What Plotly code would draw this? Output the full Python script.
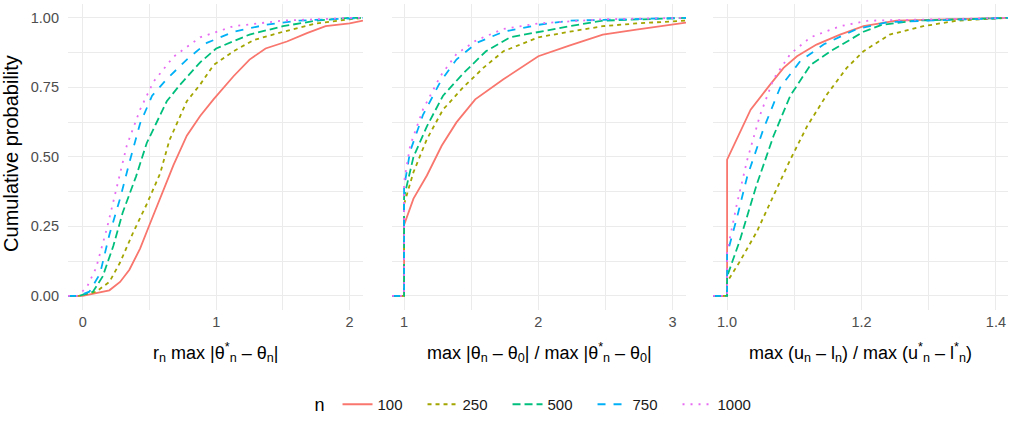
import plotly.graph_objects as go

W, H = 1018, 422

series_n = ["100", "250", "500", "750", "1000"]
colors = ["#F8766D", "#A3A500", "#00BF7D", "#00B0F6", "#E76BF3"]
dashes = ["solid", "4px,4px", "8px,4px", "8px,8px", "2px,6px"]

# Panel 1: r_n max|theta*_n - theta_n|
p1_x100 = [-0.11, 0.0, 0.2, 0.28, 0.35, 0.43, 0.5, 0.58, 0.68, 0.78, 0.88, 0.98, 1.13, 1.25, 1.37, 1.53, 1.68, 1.82, 2.0, 2.1]
p1_y100 = [0.0, 0.0, 0.02, 0.05, 0.094, 0.17, 0.255, 0.35, 0.47, 0.576, 0.647, 0.707, 0.79, 0.85, 0.89, 0.915, 0.945, 0.97, 0.98, 0.99]
p1_x250 = [-0.11, -0.03, 0.10, 0.2, 0.28, 0.38, 0.48, 0.58, 0.65, 0.73, 0.78, 0.88, 0.98, 1.13, 1.28, 1.5, 1.75, 2.0, 2.1]
p1_y250 = [0.0, 0.0, 0.015, 0.05, 0.12, 0.23, 0.33, 0.44, 0.56, 0.65, 0.70, 0.76, 0.83, 0.88, 0.92, 0.95, 0.98, 0.995, 1.0]
p1_x500 = [-0.11, -0.03, 0.077, 0.15, 0.23, 0.30, 0.40, 0.48, 0.55, 0.63, 0.73, 0.88, 1.0, 1.25, 1.5, 1.75, 2.0, 2.1]
p1_y500 = [0.0, 0.0, 0.015, 0.07, 0.18, 0.30, 0.43, 0.55, 0.62, 0.70, 0.76, 0.84, 0.89, 0.94, 0.97, 0.99, 1.0, 1.0]
p1_x750 = [-0.11, -0.03, 0.05, 0.13, 0.2, 0.28, 0.35, 0.43, 0.52, 0.63, 0.78, 0.93, 1.13, 1.37, 1.62, 2.0, 2.1]
p1_y750 = [0.0, 0.0, 0.015, 0.08, 0.22, 0.35, 0.48, 0.62, 0.72, 0.78, 0.85, 0.91, 0.95, 0.975, 0.99, 1.0, 1.0]
p1_x1000 = [-0.11, -0.04, 0.03, 0.10, 0.18, 0.25, 0.33, 0.43, 0.53, 0.68, 0.88, 1.13, 1.5, 2.0, 2.1]
p1_y1000 = [0.0, 0.0, 0.03, 0.10, 0.24, 0.38, 0.54, 0.67, 0.77, 0.86, 0.93, 0.97, 0.99, 1.0, 1.0]

# Panel 2: max|theta_n - theta_0| / max|theta*_n - theta_0|
p2_x100 = [0.91, 1.0, 1.0, 1.07, 1.17, 1.28, 1.39, 1.53, 1.74, 2.0, 2.23, 2.48, 2.73, 3.1]
p2_y100 = [0.0, 0.0, 0.255, 0.35, 0.433, 0.54, 0.624, 0.707, 0.779, 0.862, 0.90, 0.94, 0.958, 0.983]
p2_x250 = [0.91, 1.0, 1.0, 1.07, 1.17, 1.29, 1.44, 1.59, 1.74, 2.0, 2.23, 2.48, 2.73, 3.1]
p2_y250 = [0.0, 0.0, 0.33, 0.445, 0.564, 0.67, 0.75, 0.82, 0.88, 0.93, 0.95, 0.97, 0.98, 0.99]
p2_x500 = [0.91, 1.0, 1.0, 1.07, 1.17, 1.29, 1.44, 1.61, 1.79, 2.0, 2.23, 2.48, 3.1]
p2_y500 = [0.0, 0.0, 0.355, 0.50, 0.61, 0.72, 0.80, 0.88, 0.93, 0.95, 0.97, 0.99, 1.0]
p2_x750 = [0.91, 1.0, 1.0, 1.045, 1.14, 1.27, 1.39, 1.54, 1.74, 2.0, 2.23, 3.1]
p2_y750 = [0.0, 0.0, 0.39, 0.52, 0.65, 0.77, 0.85, 0.91, 0.95, 0.975, 0.99, 1.0]
p2_x1000 = [0.91, 1.0, 1.0, 1.045, 1.14, 1.27, 1.39, 1.54, 1.74, 2.0, 2.48, 3.1]
p2_y1000 = [0.0, 0.0, 0.41, 0.54, 0.67, 0.79, 0.87, 0.92, 0.96, 0.98, 0.995, 1.0]

# Panel 3: max(u_n - l_n) / max(u*_n - l*_n)
p3_x100 = [0.979, 1.0, 1.0, 1.0145, 1.035, 1.064, 1.084, 1.104, 1.133, 1.168, 1.203, 1.252, 1.418]
p3_y100 = [0.0, 0.0, 0.49, 0.564, 0.67, 0.76, 0.82, 0.862, 0.904, 0.94, 0.97, 0.99, 1.0]
p3_x250 = [0.979, 1.0, 1.0, 1.019, 1.044, 1.069, 1.094, 1.119, 1.149, 1.178, 1.203, 1.242, 1.292, 1.342, 1.418]
p3_y250 = [0.0, 0.0, 0.05, 0.124, 0.23, 0.36, 0.49, 0.61, 0.726, 0.82, 0.88, 0.94, 0.97, 0.99, 1.0]
p3_x500 = [0.979, 1.0, 1.0, 1.019, 1.044, 1.069, 1.094, 1.124, 1.154, 1.203, 1.23, 1.28, 1.418]
p3_y500 = [0.0, 0.0, 0.07, 0.20, 0.40, 0.575, 0.72, 0.83, 0.88, 0.95, 0.975, 0.99, 1.0]
p3_x750 = [0.979, 1.0, 1.0, 1.0145, 1.03, 1.054, 1.079, 1.109, 1.144, 1.193, 1.24, 1.418]
p3_y750 = [0.0, 0.0, 0.15, 0.28, 0.43, 0.60, 0.75, 0.845, 0.905, 0.96, 0.985, 1.0]
p3_x1000 = [0.979, 1.0, 1.0, 1.0145, 1.03, 1.049, 1.069, 1.094, 1.124, 1.168, 1.21, 1.418]
p3_y1000 = [0.0, 0.0, 0.16, 0.33, 0.49, 0.65, 0.78, 0.87, 0.93, 0.97, 0.99, 1.0]

panels = [
    ([p1_x100, p1_x250, p1_x500, p1_x750, p1_x1000], [p1_y100, p1_y250, p1_y500, p1_y750, p1_y1000]),
    ([p2_x100, p2_x250, p2_x500, p2_x750, p2_x1000], [p2_y100, p2_y250, p2_y500, p2_y750, p2_y1000]),
    ([p3_x100, p3_x250, p3_x500, p3_x750, p3_x1000], [p3_y100, p3_y250, p3_y500, p3_y750, p3_y1000]),
]

x_ranges = [[-0.11, 2.1], [0.91, 3.1], [0.979, 1.418]]
x_ticks = [[0, 1, 2], [1, 2, 3], [1.0, 1.2, 1.4]]
x_ticktext = [["0", "1", "2"], ["1", "2", "3"], ["1.0", "1.2", "1.4"]]
x_minor = [0.5, 0.5, 0.1]
x_titles = [
    "r<sub>n</sub> max |θ<sup>*</sup><sub>n</sub> – θ<sub>n</sub>|",
    "max |θ<sub>n</sub> – θ<sub>0</sub>| / max |θ<sup>*</sup><sub>n</sub> – θ<sub>0</sub>|",
    "max (u<sub>n</sub> – l<sub>n</sub>) / max (u<sup>*</sup><sub>n</sub> – l<sup>*</sup><sub>n</sub>)",
]
y_ticks = [0, 0.25, 0.5, 0.75, 1.0]
y_ticktext = ["0.00", "0.25", "0.50", "0.75", "1.00"]

panel_px = [(68, 363), (392, 686), (713, 1008)]
y_dom = [(H - 312) / H, (H - 4) / H]

FONT = "Liberation Sans, Arial, sans-serif"
GRID = "#EBEBEB"
TICK_SIZE = 14.5
TITLE_SIZE = 18

fig = go.Figure()
for p, (xs, ys) in enumerate(panels):
    xa = "x" if p == 0 else f"x{p+1}"
    ya = "y" if p == 0 else f"y{p+1}"
    for i in range(5):
        fig.add_trace(go.Scatter(
            x=xs[i], y=ys[i], mode="lines", xaxis=xa, yaxis=ya,
            name=series_n[i], legendgroup=series_n[i], showlegend=(p == 0),
            line=dict(color=colors[i], width=1.8, dash=dashes[i]),
        ))

layout = dict(
    width=W, height=H, margin=dict(l=0, r=0, t=0, b=0),
    paper_bgcolor="white", plot_bgcolor="white",
    font=dict(family=FONT, size=TICK_SIZE, color="#4D4D4D"),
    showlegend=True,
    legend=dict(
        orientation="h", x=0.5285, xanchor="center", y=0.033, yanchor="middle",
        title=dict(text="n ", font=dict(size=TITLE_SIZE, color="black"), side="left"),
        font=dict(size=15, color="#1a1a1a"),
        itemwidth=30, tracegroupgap=0, entrywidth=40, entrywidthmode="pixels",
    ),
)
annotations = []
for p in range(3):
    xk = "xaxis" if p == 0 else f"xaxis{p+1}"
    yk = "yaxis" if p == 0 else f"yaxis{p+1}"
    l, r = panel_px[p]
    layout[xk] = dict(
        domain=[l / W, r / W], range=x_ranges[p], anchor="y" if p == 0 else f"y{p+1}",
        tickvals=x_ticks[p], ticktext=x_ticktext[p], showgrid=True, gridcolor=GRID, gridwidth=1.1,
        zeroline=False, showline=False, ticks="", ticklabelstandoff=2,
        tickfont=dict(size=TICK_SIZE, color="#4D4D4D"),
        minor=dict(dtick=x_minor[p], showgrid=True, gridcolor=GRID, gridwidth=0.55, tick0=x_ticks[p][0]),
    )
    layout[yk] = dict(
        domain=y_dom, range=[-0.05, 1.05], anchor="x" if p == 0 else f"x{p+1}",
        tickvals=y_ticks, ticktext=y_ticktext, showticklabels=(p == 0),
        showgrid=True, gridcolor=GRID, gridwidth=1.1, zeroline=False, showline=False, ticks="",
        ticklabelstandoff=8, tickfont=dict(size=TICK_SIZE, color="#4D4D4D"),
        minor=dict(dtick=0.125, tick0=0, showgrid=True, gridcolor=GRID, gridwidth=0.55),
    )
    annotations.append(dict(
        text=x_titles[p], xref="paper", yref="paper", x=(l + r) / 2 / W, y=(H - 355) / H,
        xanchor="center", yanchor="middle", showarrow=False,
        font=dict(size=TITLE_SIZE, color="black", family=FONT),
    ))
annotations.append(dict(
    text="Cumulative probability", xref="paper", yref="paper", x=11 / W, y=(H - 155) / H,
    xanchor="center", yanchor="middle", showarrow=False, textangle=-90,
    font=dict(size=20, color="black", family=FONT),
))
layout["annotations"] = annotations
fig.update_layout(**layout)
fig.write_html("out.html")
